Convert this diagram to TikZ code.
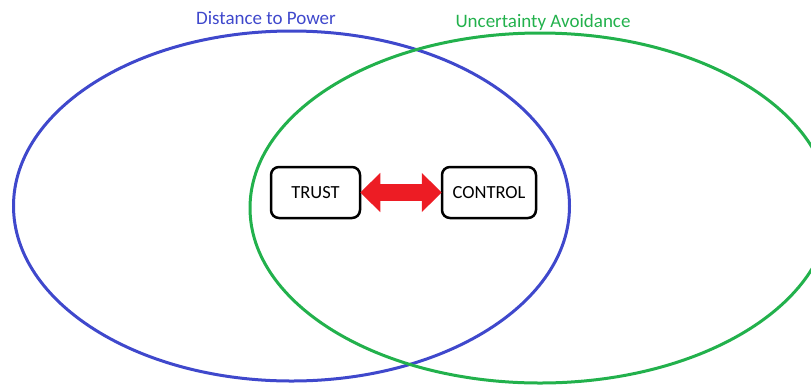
\documentclass[tikz,border=0pt]{standalone}
\usepackage{fontspec}
\setmainfont{Carlito}
\usetikzlibrary{arrows.meta}
\definecolor{pblue}{RGB}{63,72,204}
\definecolor{pgreen}{RGB}{34,177,76}
\definecolor{pred}{RGB}{237,28,36}
\begin{document}
\begin{tikzpicture}[x=1pt,y=-1pt,
  ring/.style={line width=3pt},
  box/.style={draw=black,line width=2.5pt,rounded corners=8pt,minimum width=89pt,minimum height=51pt,inner sep=0pt,font=\fontsize{18.5}{21}\selectfont},
  fatarrow/.style={pred,line width=17pt,{Triangle[length=20pt,width=38pt]}-{Triangle[length=20pt,width=38pt]},shorten <=-1pt,shorten >=-1pt},
  lbl/.style={font=\fontsize{19}{22}\selectfont,inner sep=0pt}]
\useasboundingbox (0,0) rectangle (811,384);
\draw[ring,pblue] (291.5,206) ellipse [x radius=278, y radius=175];
\draw[ring,pgreen] (540,208) ellipse [x radius=290, y radius=175];
\node[lbl,text=pblue] (dp) at (266,18) {Distance to Power};
\node[lbl,text=pgreen] (ua) at (543,22) {Uncertainty Avoidance};
\node[box] (trust) at (315.5,192.5) {TRUST};
\node[box,minimum width=94pt] (control) at (489,192.5) {CONTROL};
\draw[fatarrow] (trust.east) -- (control.west);
\end{tikzpicture}
\end{document}
